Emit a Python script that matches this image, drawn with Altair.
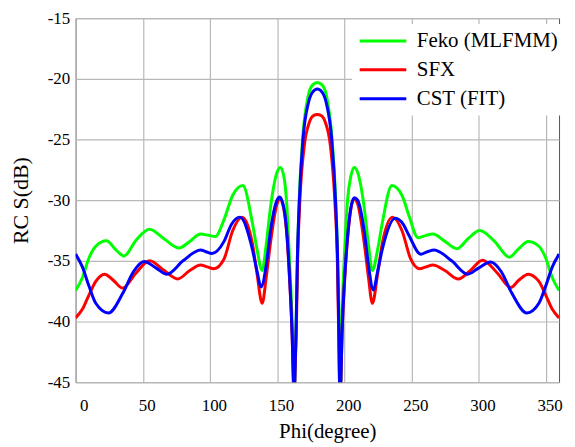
import altair as alt
import pandas as pd

series_names = ["Feko (MLFMM)", "SFX", "CST (FIT)"]
series_colors = ["#00ff00", "#ff0000", "#0000ff"]

x_ticks = [0, 50, 100, 150, 200, 250, 300, 350]
y_ticks = [-45, -40, -35, -30, -25, -20, -15]

feko_phi = [0, 5, 10, 15, 23, 30, 36, 45, 55, 66, 77, 85, 93, 99, 104, 110.5, 117, 124.5,
            131.5, 135, 138.9, 142, 145, 150, 152.5, 155, 157, 159.3, 161.2, 162.2, 162.7, 163.2,
            164.2, 165.1, 166.5, 169, 173, 176.5, 180, 183.5, 187, 191, 193.7, 195.2, 196.1,
            196.5, 197, 197.5, 198.3, 200, 202.5, 205, 207.5, 210, 215, 218, 221, 225, 228.5, 235.5,
            243, 248, 255, 261, 266, 275, 284, 292, 301, 312, 323, 330, 337, 345, 350, 355, 360]
feko_db = [-37.45, -36.4, -34.75, -33.8, -33.35, -34.1, -34.6, -33.3, -32.4, -33.2, -33.95, -33.4,
           -32.8, -32.9, -33.0, -31.6, -29.6, -28.8,
           -31.8, -34.0, -35.8, -33.6, -30.7, -27.7, -27.3, -28.0, -30.0, -35.0, -40.0, -45.0, -48.0, -45.0,
           -40.0, -35.0, -30.0, -25.0, -21.5, -20.5, -20.3, -20.5, -21.5, -25.0, -30.0, -35.0, -40.0,
           -45.0, -48.0, -45.0, -40.0, -35.0, -30.0, -28.0, -27.3, -27.7, -30.7, -33.6, -35.8, -34.0, -31.8, -28.8,
           -29.6, -31.2, -33.1, -32.9, -32.8, -33.4, -34.0, -33.2, -32.5, -33.4, -34.7, -34.0, -33.4,
           -33.8, -34.75, -36.4, -37.45]

sfx_phi = [0, 5, 10, 15, 21.5, 28, 35, 45, 55, 66, 76, 85, 93, 98, 103, 110.5, 117, 124,
           131.5, 135, 138.9, 142, 145, 150, 152, 155, 157.5, 159.4, 161.2, 162.2, 162.7, 163.2,
           164.3, 165.3, 167, 170.3, 174, 177, 180, 183, 186, 189.7, 193, 194.9, 195.9,
           196.5, 197, 197.5, 198.4, 200.3, 202.5, 205, 207.5, 210, 215, 218, 221, 225, 228.5, 236,
           243, 249.5, 256, 261, 266, 275, 285, 294, 303, 314, 324, 330, 337, 345, 350, 355, 360]
sfx_db = [-39.7, -39.0, -37.8, -36.7, -36.1, -36.6, -37.25, -36.0, -35.0, -35.8, -36.5, -35.8,
          -35.35, -35.5, -35.65, -34.85, -32.5, -31.4,
          -33.5, -36.0, -38.5, -36.3, -33.6, -30.3, -29.9, -30.7, -33.2, -36.7, -41.0, -45.0, -48.0, -45.0,
          -41.0, -35.0, -30.0, -25.5, -23.6, -23.05, -22.95, -23.05, -23.6, -25.5, -30.0, -35.0, -41.0,
          -45.0, -48.0, -45.0, -41.0, -36.7, -33.2, -30.7, -29.9, -30.3, -33.6, -36.3, -38.5, -36.0, -33.5, -31.4,
          -32.5, -34.85, -35.65, -35.5, -35.35, -35.8, -36.5, -35.8, -34.95, -36.0, -37.2, -36.6,
          -36.1, -36.7, -37.8, -39.0, -39.7]

cst_phi = [0, 5, 10, 15, 24.5, 35, 43, 51, 60, 68, 80, 93, 97, 101.5, 110.5, 116, 122.4,
           131.5, 135, 138.1, 142, 145, 150, 152, 155, 157.5, 159.4, 161.2, 162.2, 162.7, 163.2,
           164.2, 165.1, 166.6, 169.3, 173.3, 176.5, 180, 183.5, 186.7, 190.7, 193.5, 195.1, 196.0,
           196.5, 197, 197.5, 198.4, 200.3, 202.5, 205, 207.5, 210, 215, 218, 221.7, 225, 228.5, 238,
           244, 248, 257, 262, 267, 280, 292, 300, 309, 317, 325, 336, 345, 350, 355, 360]
cst_db = [-34.45, -35.5, -37.1, -38.5, -39.3, -37.7, -35.9, -35.05, -35.6, -36.1, -35.0, -34.1,
          -34.25, -34.4, -33.4, -32.0, -31.4,
          -34.0, -35.8, -37.15, -35.3, -32.6, -30.0, -29.75, -30.6, -33.0, -36.5, -41.0, -45.0, -48.0, -45.0,
          -40.5, -35.0, -30.0, -25.0, -22.0, -21.1, -20.85, -21.1, -22.0, -25.0, -30.0, -35.0, -40.5,
          -45.0, -48.0, -45.0, -41.0, -36.5, -33.0, -30.6, -29.8, -30.0, -32.6, -35.3, -37.4, -35.8, -34.0, -31.5,
          -32.0, -32.85, -34.45, -34.25, -34.1, -35.0, -36.1, -35.6, -35.1, -35.9, -37.7, -39.3,
          -38.5, -37.1, -35.5, -34.45]

frames = []
for name, phis, dbs in [(series_names[0], feko_phi, feko_db),
                        (series_names[1], sfx_phi, sfx_db),
                        (series_names[2], cst_phi, cst_db)]:
    frames.append(pd.DataFrame({"phi": phis, "rcs": dbs, "series": name}))
data = pd.concat(frames, ignore_index=True)

FONT = "Times New Roman, Liberation Serif, DejaVu Serif, serif"

x_enc = alt.X("phi:Q",
              scale=alt.Scale(domain=[0, 360], nice=False, zero=False),
              axis=alt.Axis(values=x_ticks, title="Phi(degree)", titleX=253,
                            labelExpr="'' + datum.value", labelOffset=4,
                            labelFont=FONT, labelFontSize=17, labelPadding=15,
                            titleFont=FONT, titleFontSize=21, titlePadding=8))
y_enc = alt.Y("rcs:Q",
              scale=alt.Scale(domain=[-45, -15], nice=False, zero=False),
              axis=alt.Axis(values=y_ticks, title="RC S(dB)",
                            labelExpr="'' + datum.value",
                            labelFont=FONT, labelFontSize=17, labelPadding=6,
                            titleFont=FONT, titleFontSize=22, titlePadding=15))
color_enc = alt.Color("series:N",
                      scale=alt.Scale(domain=series_names, range=series_colors),
                      legend=alt.Legend(title=None, orient="none", legendX=278, legendY=6,
                                        fillColor="white", padding=6,
                                        symbolType="stroke", symbolStrokeWidth=3,
                                        symbolSize=2200, clipHeight=22,
                                        labelFont=FONT, labelFontSize=21,
                                        labelColor="black", labelOffset=9, rowPadding=7,
                                        labelLimit=300))

layers = []
for name in series_names:
    layers.append(
        alt.Chart(data)
        .transform_filter(alt.datum.series == name)
        .mark_line(strokeWidth=3, interpolate="monotone", clip=True)
        .encode(x=x_enc, y=y_enc, color=color_enc)
    )

chart = (
    alt.layer(*layers)
    .properties(width=486, height=366,
                autosize=alt.AutoSizeParams(type="none"),
                padding={"left": 68, "top": 9, "right": 8, "bottom": 61})
    .configure_view(stroke="#555555", strokeWidth=1)
    .configure_axis(labelColor="black", titleFontWeight="normal",
                    titleColor="black", domain=False, ticks=False,
                    gridColor="#b8b8b8", gridWidth=1.2, gridOpacity=1)
)

chart.save("out.html", embed_options={"renderer": "svg", "actions": False})
